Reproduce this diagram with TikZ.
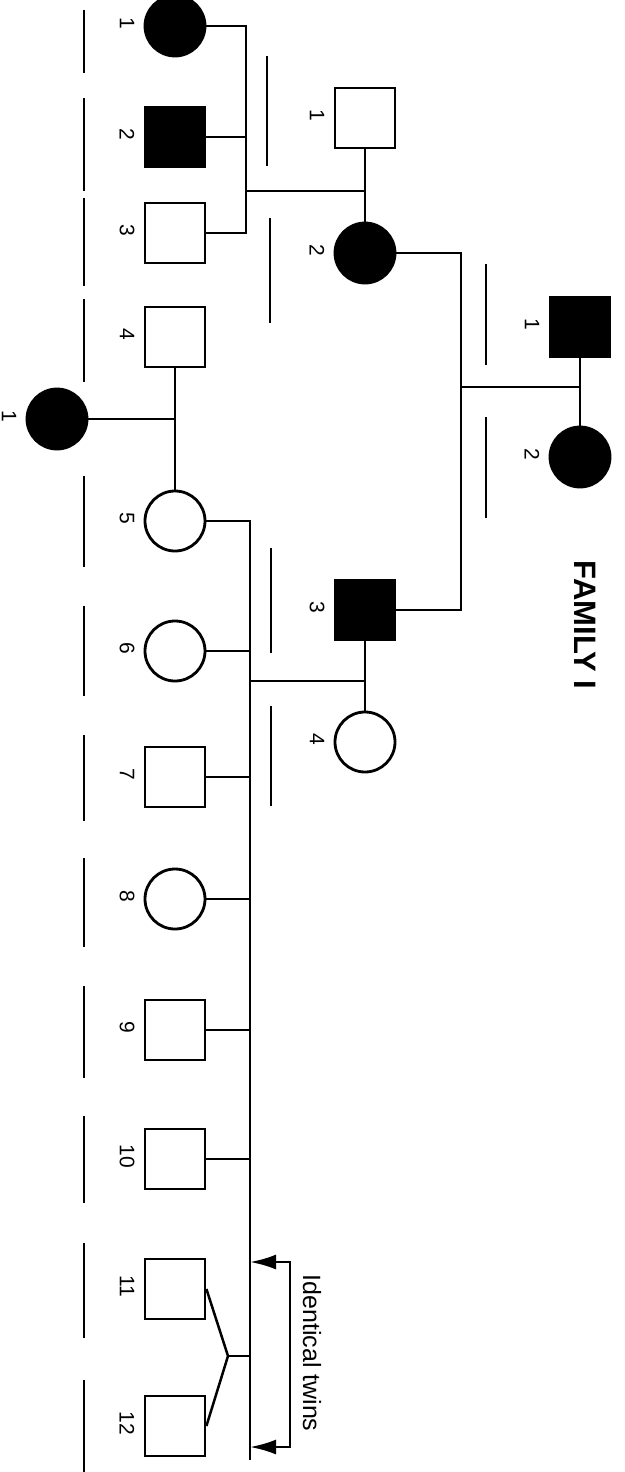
\documentclass[tikz,border=0pt]{standalone}
\usepackage{fontspec}
\setsansfont{Liberation Sans}
\usetikzlibrary{arrows.meta}
\tikzset{
  male/.style={draw,rectangle,minimum size=60pt,inner sep=0pt,line width=2.8pt},
  female/.style={draw,circle,minimum size=60pt,inner sep=0pt,line width=2.8pt},
  kin/.style={line width=2.5pt},
  genbar/.style={line width=2.8pt},
  pedlabel/.style={rotate=-90,inner sep=0pt,font=\sffamily\fontsize{21}{21}\selectfont},
}
\begin{document}
\begin{tikzpicture}[x=1pt,y=-1pt,>=Latex]
  \useasboundingbox[fill=white] (0,0) rectangle (624,1472);
  % generation I
  \node[male,fill=black] (I1) at (580,327) {};
  \node[female,fill=black] (I2) at (580,457) {};
  % generation II
  \node[male] (II1) at (365,118) {};
  \node[female,fill=black] (II2) at (365,253) {};
  \node[male,fill=black] (II3) at (365,610) {};
  \node[female] (II4) at (365,742) {};
  % generation III
  \foreach \n/\y/\shp/\fc in {1/26/female/black,2/137/male/black,3/233/male/white,4/337/male/white,
      5/521/female/white,6/651/female/white,7/777/male/white,8/899/female/white,
      9/1030/male/white,10/1159/male/white,11/1289/male/white,12/1426/male/white}
    \node[\shp,fill=\fc] (III\n) at (175,\y) {};
  \node[female,fill=black] (S1) at (57,419) {};
  % numbers
  \foreach \who/\txt in {I1/1,I2/2,II1/1,II2/2,II3/3,II4/4,S1/1,III1/1,III2/2,III3/3,III4/4,
      III5/5,III6/6,III7/7,III8/8,III9/9,III10/10,III11/11,III12/12}
    \path (\who) ++(-48,-3) node[pedlabel] (n\who) {\txt};
  % lines of descent
  \draw[kin] (I1) -- (I2);
  \coordinate (Im) at (580,387);
  \coordinate (Isib) at (461,387);
  \draw[kin] (Im) -- (Isib);
  \draw[kin] (II2.east) -| (Isib) |- (II3.east);
  \draw[kin] (II1) -- (II2);
  \coordinate (IIm) at (365,191);
  \coordinate (IIsib) at (246,191);
  \draw[kin] (IIm) -- (IIsib);
  \draw[kin] (III1.east) -| (IIsib) |- (III3.east);
  \draw[kin] (III2.east) -- (III2.east -| IIsib);
  \draw[kin] (II3) -- (II4);
  \coordinate (IIIm) at (365,681);
  \coordinate (IIIsib) at (250,681);
  \coordinate (sibend) at (250,1460);
  \draw[kin] (IIIm) -- (IIIsib);
  \draw[kin] (III5.east) -| (sibend);
  \foreach \n in {6,...,10}
    \draw[kin] (III\n.east) -- (III\n.east -| sibend);
  \draw[kin] (III4) -- (III5);
  \draw[kin] (S1) -- (S1 -| III4);
  % twins
  \coordinate (twin) at (228,1356);
  \draw[kin] (III11.east) -- (twin) -- (III12.east);
  \draw[kin] (twin) -- (twin -| sibend);
  \coordinate (tw1) at (290,1262);
  \coordinate (tw2) at (290,1447);
  \draw[kin,{Latex[length=26pt,width=15pt]}-{Latex[length=26pt,width=15pt]}]
    (tw1 -| sibend) -- (tw1) -- (tw2) -- (tw2 -| sibend);
  \node[rotate=-90,inner sep=0pt,font=\sffamily\fontsize{25}{25}\selectfont] (twins) at (312,1353) {Identical twins};
  % bars
  \foreach \x/\a/\b in {267/56/166,270/218/323,486/264/365,486/417/518,271/548/653,271/706/806}
    \draw[genbar] (\x,\a) -- (\x,\b);
  \foreach \a/\b in {10/73,98/191,198/286,299/382,476/567,606/696,735/821,858/947,
      986/1078,1116/1203,1243/1338,1380/1472}
    \draw[genbar] (84,\a) -- (84,\b);
  \node[rotate=-90,inner sep=0pt,font=\sffamily\bfseries\fontsize{31}{31}\selectfont] (title) at (585,625) {FAMILY I};
\end{tikzpicture}
\end{document}
